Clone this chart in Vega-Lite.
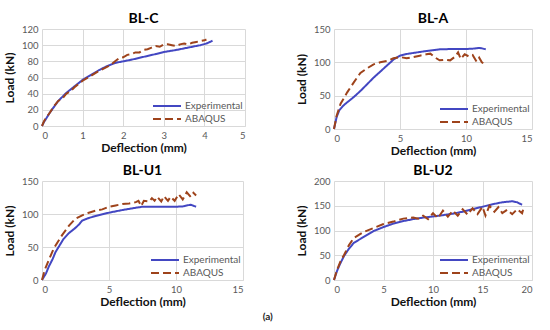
{
  "$schema": "https://vega.github.io/schema/vega-lite/v6.json",
  "background": "white",
  "padding": {"left": 3, "top": 12, "right": 5, "bottom": 2},
  "title": {"text": "(a)", "orient": "bottom", "anchor": "middle", "fontSize": 10, "fontWeight": "bold", "color": "#222222", "font": "Lato", "offset": 4},
  "config": {
    "font": "Lato",
    "view": {"stroke": null},
    "axis": {"gridColor": "#d9d9d9", "domainColor": "#d9d9d9", "ticks": false, "labelColor": "#595959", "labelFontSize": 9.5, "labelFont": "Lato", "titleFont": "Lato", "titleFontSize": 12, "titleFontWeight": "bold", "titleColor": "#111111", "labelPadding": 4},
    "axisY": {"domain": false, "titlePadding": 5},
    "axisX": {"titlePadding": 3, "labelPadding": 4},
    "legend": {"orient": "bottom-right", "labelColor": "#595959", "labelFontSize": 10, "labelFont": "Lato", "symbolType": "M-2,0H2", "symbolSize": 196, "symbolStrokeWidth": 2, "rowPadding": -1, "padding": 0, "offset": 2, "title": null, "labelOffset": 10},
    "title": {"fontSize": 14, "fontWeight": "bold", "color": "#000000", "font": "Lato", "offset": -2}
  },
  "datasets": {
    "d": [
      {"p":"BL-C","s":"Experimental","x":0,"y":0},{"p":"BL-C","s":"Experimental","x":0.05,"y":5},{"p":"BL-C","s":"Experimental","x":0.1,"y":9},{"p":"BL-C","s":"Experimental","x":0.2,"y":17},{"p":"BL-C","s":"Experimental","x":0.3,"y":24},{"p":"BL-C","s":"Experimental","x":0.4,"y":31},{"p":"BL-C","s":"Experimental","x":0.5,"y":36},{"p":"BL-C","s":"Experimental","x":0.6,"y":41},{"p":"BL-C","s":"Experimental","x":0.8,"y":49},{"p":"BL-C","s":"Experimental","x":1,"y":57},{"p":"BL-C","s":"Experimental","x":1.2,"y":63},{"p":"BL-C","s":"Experimental","x":1.4,"y":69},{"p":"BL-C","s":"Experimental","x":1.6,"y":74},{"p":"BL-C","s":"Experimental","x":1.8,"y":78},{"p":"BL-C","s":"Experimental","x":2,"y":80},{"p":"BL-C","s":"Experimental","x":2.2,"y":82},{"p":"BL-C","s":"Experimental","x":2.5,"y":85.5},{"p":"BL-C","s":"Experimental","x":2.8,"y":89},{"p":"BL-C","s":"Experimental","x":3,"y":91.5},{"p":"BL-C","s":"Experimental","x":3.3,"y":94},{"p":"BL-C","s":"Experimental","x":3.6,"y":97},{"p":"BL-C","s":"Experimental","x":3.9,"y":100},{"p":"BL-C","s":"Experimental","x":4.05,"y":102},{"p":"BL-C","s":"Experimental","x":4.2,"y":105.5},
      {"p":"BL-C","s":"ABAQUS","x":0,"y":0},{"p":"BL-C","s":"ABAQUS","x":0.05,"y":6},{"p":"BL-C","s":"ABAQUS","x":0.1,"y":10},{"p":"BL-C","s":"ABAQUS","x":0.2,"y":17},{"p":"BL-C","s":"ABAQUS","x":0.3,"y":25},{"p":"BL-C","s":"ABAQUS","x":0.4,"y":31},{"p":"BL-C","s":"ABAQUS","x":0.5,"y":34},{"p":"BL-C","s":"ABAQUS","x":0.6,"y":40},{"p":"BL-C","s":"ABAQUS","x":0.7,"y":43},{"p":"BL-C","s":"ABAQUS","x":0.8,"y":48},{"p":"BL-C","s":"ABAQUS","x":1,"y":56},{"p":"BL-C","s":"ABAQUS","x":1.2,"y":62},{"p":"BL-C","s":"ABAQUS","x":1.4,"y":68},{"p":"BL-C","s":"ABAQUS","x":1.6,"y":73},{"p":"BL-C","s":"ABAQUS","x":1.7,"y":76},{"p":"BL-C","s":"ABAQUS","x":1.8,"y":80},{"p":"BL-C","s":"ABAQUS","x":1.9,"y":84},{"p":"BL-C","s":"ABAQUS","x":2,"y":85},{"p":"BL-C","s":"ABAQUS","x":2.1,"y":88},{"p":"BL-C","s":"ABAQUS","x":2.2,"y":89},{"p":"BL-C","s":"ABAQUS","x":2.3,"y":91},{"p":"BL-C","s":"ABAQUS","x":2.4,"y":91},{"p":"BL-C","s":"ABAQUS","x":2.5,"y":94},{"p":"BL-C","s":"ABAQUS","x":2.6,"y":95},{"p":"BL-C","s":"ABAQUS","x":2.7,"y":97},{"p":"BL-C","s":"ABAQUS","x":2.8,"y":99},{"p":"BL-C","s":"ABAQUS","x":2.9,"y":98},{"p":"BL-C","s":"ABAQUS","x":3,"y":101},{"p":"BL-C","s":"ABAQUS","x":3.1,"y":101},{"p":"BL-C","s":"ABAQUS","x":3.2,"y":100},{"p":"BL-C","s":"ABAQUS","x":3.3,"y":99},{"p":"BL-C","s":"ABAQUS","x":3.4,"y":101},{"p":"BL-C","s":"ABAQUS","x":3.5,"y":102},{"p":"BL-C","s":"ABAQUS","x":3.6,"y":101},{"p":"BL-C","s":"ABAQUS","x":3.7,"y":103},{"p":"BL-C","s":"ABAQUS","x":3.8,"y":104},{"p":"BL-C","s":"ABAQUS","x":3.9,"y":105},{"p":"BL-C","s":"ABAQUS","x":4,"y":106},{"p":"BL-C","s":"ABAQUS","x":4.05,"y":107},
      {"p":"BL-A","s":"Experimental","x":0,"y":0},{"p":"BL-A","s":"Experimental","x":0.2,"y":18},{"p":"BL-A","s":"Experimental","x":0.4,"y":28},{"p":"BL-A","s":"Experimental","x":0.7,"y":35},{"p":"BL-A","s":"Experimental","x":1,"y":40},{"p":"BL-A","s":"Experimental","x":1.5,"y":48},{"p":"BL-A","s":"Experimental","x":2,"y":57},{"p":"BL-A","s":"Experimental","x":2.5,"y":67},{"p":"BL-A","s":"Experimental","x":3,"y":77},{"p":"BL-A","s":"Experimental","x":3.5,"y":86},{"p":"BL-A","s":"Experimental","x":4,"y":95},{"p":"BL-A","s":"Experimental","x":4.5,"y":104},{"p":"BL-A","s":"Experimental","x":5,"y":110},{"p":"BL-A","s":"Experimental","x":5.5,"y":112.5},{"p":"BL-A","s":"Experimental","x":6,"y":114},{"p":"BL-A","s":"Experimental","x":7,"y":117},{"p":"BL-A","s":"Experimental","x":8,"y":119.5},{"p":"BL-A","s":"Experimental","x":9,"y":120},{"p":"BL-A","s":"Experimental","x":10,"y":120},{"p":"BL-A","s":"Experimental","x":10.5,"y":120.5},{"p":"BL-A","s":"Experimental","x":11,"y":121.5},{"p":"BL-A","s":"Experimental","x":11.2,"y":121},{"p":"BL-A","s":"Experimental","x":11.5,"y":119.5},
      {"p":"BL-A","s":"ABAQUS","x":0,"y":0},{"p":"BL-A","s":"ABAQUS","x":0.2,"y":20},{"p":"BL-A","s":"ABAQUS","x":0.5,"y":38},{"p":"BL-A","s":"ABAQUS","x":0.8,"y":48},{"p":"BL-A","s":"ABAQUS","x":1,"y":55},{"p":"BL-A","s":"ABAQUS","x":1.5,"y":70},{"p":"BL-A","s":"ABAQUS","x":2,"y":84},{"p":"BL-A","s":"ABAQUS","x":2.5,"y":91},{"p":"BL-A","s":"ABAQUS","x":3,"y":97},{"p":"BL-A","s":"ABAQUS","x":3.5,"y":100},{"p":"BL-A","s":"ABAQUS","x":4,"y":102},{"p":"BL-A","s":"ABAQUS","x":4.5,"y":106},{"p":"BL-A","s":"ABAQUS","x":5,"y":108},{"p":"BL-A","s":"ABAQUS","x":5.5,"y":106},{"p":"BL-A","s":"ABAQUS","x":6,"y":108},{"p":"BL-A","s":"ABAQUS","x":6.5,"y":110},{"p":"BL-A","s":"ABAQUS","x":7,"y":112},{"p":"BL-A","s":"ABAQUS","x":7.3,"y":113},{"p":"BL-A","s":"ABAQUS","x":7.6,"y":108},{"p":"BL-A","s":"ABAQUS","x":8,"y":103},{"p":"BL-A","s":"ABAQUS","x":8.4,"y":104},{"p":"BL-A","s":"ABAQUS","x":8.8,"y":103},{"p":"BL-A","s":"ABAQUS","x":9.2,"y":109},{"p":"BL-A","s":"ABAQUS","x":9.4,"y":115},{"p":"BL-A","s":"ABAQUS","x":9.6,"y":105},{"p":"BL-A","s":"ABAQUS","x":9.9,"y":112},{"p":"BL-A","s":"ABAQUS","x":10.2,"y":109},{"p":"BL-A","s":"ABAQUS","x":10.5,"y":111},{"p":"BL-A","s":"ABAQUS","x":10.8,"y":101},{"p":"BL-A","s":"ABAQUS","x":11,"y":107},{"p":"BL-A","s":"ABAQUS","x":11.2,"y":100},{"p":"BL-A","s":"ABAQUS","x":11.5,"y":96},
      {"p":"BL-U1","s":"Experimental","x":0,"y":0},{"p":"BL-U1","s":"Experimental","x":0.3,"y":10},{"p":"BL-U1","s":"Experimental","x":0.5,"y":20},{"p":"BL-U1","s":"Experimental","x":0.8,"y":32},{"p":"BL-U1","s":"Experimental","x":1,"y":42},{"p":"BL-U1","s":"Experimental","x":1.3,"y":52},{"p":"BL-U1","s":"Experimental","x":1.6,"y":62},{"p":"BL-U1","s":"Experimental","x":2,"y":71},{"p":"BL-U1","s":"Experimental","x":2.5,"y":79},{"p":"BL-U1","s":"Experimental","x":2.8,"y":85},{"p":"BL-U1","s":"Experimental","x":3,"y":90},{"p":"BL-U1","s":"Experimental","x":3.5,"y":94},{"p":"BL-U1","s":"Experimental","x":4,"y":97},{"p":"BL-U1","s":"Experimental","x":4.5,"y":99.5},{"p":"BL-U1","s":"Experimental","x":5,"y":102},{"p":"BL-U1","s":"Experimental","x":6,"y":106},{"p":"BL-U1","s":"Experimental","x":7,"y":109.5},{"p":"BL-U1","s":"Experimental","x":7.5,"y":111},{"p":"BL-U1","s":"Experimental","x":8,"y":111},{"p":"BL-U1","s":"Experimental","x":9,"y":111},{"p":"BL-U1","s":"Experimental","x":10,"y":111},{"p":"BL-U1","s":"Experimental","x":10.5,"y":111.5},{"p":"BL-U1","s":"Experimental","x":10.8,"y":113},{"p":"BL-U1","s":"Experimental","x":11.1,"y":114},{"p":"BL-U1","s":"Experimental","x":11.5,"y":111},
      {"p":"BL-U1","s":"ABAQUS","x":0,"y":0},{"p":"BL-U1","s":"ABAQUS","x":0.2,"y":15},{"p":"BL-U1","s":"ABAQUS","x":0.5,"y":30},{"p":"BL-U1","s":"ABAQUS","x":0.8,"y":44},{"p":"BL-U1","s":"ABAQUS","x":1,"y":52},{"p":"BL-U1","s":"ABAQUS","x":1.5,"y":68},{"p":"BL-U1","s":"ABAQUS","x":2,"y":82},{"p":"BL-U1","s":"ABAQUS","x":2.5,"y":93},{"p":"BL-U1","s":"ABAQUS","x":3,"y":98},{"p":"BL-U1","s":"ABAQUS","x":3.5,"y":102},{"p":"BL-U1","s":"ABAQUS","x":4,"y":105},{"p":"BL-U1","s":"ABAQUS","x":4.5,"y":107},{"p":"BL-U1","s":"ABAQUS","x":5,"y":111},{"p":"BL-U1","s":"ABAQUS","x":5.5,"y":113},{"p":"BL-U1","s":"ABAQUS","x":6,"y":115},{"p":"BL-U1","s":"ABAQUS","x":6.5,"y":116},{"p":"BL-U1","s":"ABAQUS","x":7,"y":118},{"p":"BL-U1","s":"ABAQUS","x":7.2,"y":120},{"p":"BL-U1","s":"ABAQUS","x":7.4,"y":112},{"p":"BL-U1","s":"ABAQUS","x":7.6,"y":120},{"p":"BL-U1","s":"ABAQUS","x":8,"y":119},{"p":"BL-U1","s":"ABAQUS","x":8.2,"y":124},{"p":"BL-U1","s":"ABAQUS","x":8.4,"y":120},{"p":"BL-U1","s":"ABAQUS","x":8.6,"y":126},{"p":"BL-U1","s":"ABAQUS","x":8.9,"y":119},{"p":"BL-U1","s":"ABAQUS","x":9.1,"y":127},{"p":"BL-U1","s":"ABAQUS","x":9.4,"y":120},{"p":"BL-U1","s":"ABAQUS","x":9.6,"y":126},{"p":"BL-U1","s":"ABAQUS","x":9.9,"y":120},{"p":"BL-U1","s":"ABAQUS","x":10.2,"y":130},{"p":"BL-U1","s":"ABAQUS","x":10.5,"y":122},{"p":"BL-U1","s":"ABAQUS","x":10.8,"y":133},{"p":"BL-U1","s":"ABAQUS","x":11.1,"y":126},{"p":"BL-U1","s":"ABAQUS","x":11.3,"y":132},{"p":"BL-U1","s":"ABAQUS","x":11.5,"y":128},
      {"p":"BL-U2","s":"Experimental","x":0,"y":0},{"p":"BL-U2","s":"Experimental","x":0.3,"y":18},{"p":"BL-U2","s":"Experimental","x":0.6,"y":32},{"p":"BL-U2","s":"Experimental","x":1,"y":48},{"p":"BL-U2","s":"Experimental","x":1.5,"y":63},{"p":"BL-U2","s":"Experimental","x":2,"y":75},{"p":"BL-U2","s":"Experimental","x":3,"y":87},{"p":"BL-U2","s":"Experimental","x":4,"y":99},{"p":"BL-U2","s":"Experimental","x":5,"y":107},{"p":"BL-U2","s":"Experimental","x":6,"y":114},{"p":"BL-U2","s":"Experimental","x":7,"y":119},{"p":"BL-U2","s":"Experimental","x":8,"y":123},{"p":"BL-U2","s":"Experimental","x":9,"y":126},{"p":"BL-U2","s":"Experimental","x":10,"y":128.5},{"p":"BL-U2","s":"Experimental","x":11,"y":131},{"p":"BL-U2","s":"Experimental","x":12,"y":134},{"p":"BL-U2","s":"Experimental","x":13,"y":138},{"p":"BL-U2","s":"Experimental","x":14,"y":143},{"p":"BL-U2","s":"Experimental","x":15,"y":148},{"p":"BL-U2","s":"Experimental","x":16,"y":153},{"p":"BL-U2","s":"Experimental","x":17,"y":157},{"p":"BL-U2","s":"Experimental","x":18,"y":159},{"p":"BL-U2","s":"Experimental","x":18.5,"y":157},{"p":"BL-U2","s":"Experimental","x":19,"y":152},
      {"p":"BL-U2","s":"ABAQUS","x":0,"y":0},{"p":"BL-U2","s":"ABAQUS","x":0.3,"y":20},{"p":"BL-U2","s":"ABAQUS","x":0.7,"y":40},{"p":"BL-U2","s":"ABAQUS","x":1,"y":50},{"p":"BL-U2","s":"ABAQUS","x":1.5,"y":70},{"p":"BL-U2","s":"ABAQUS","x":2,"y":85},{"p":"BL-U2","s":"ABAQUS","x":3,"y":97},{"p":"BL-U2","s":"ABAQUS","x":4,"y":105},{"p":"BL-U2","s":"ABAQUS","x":5,"y":113},{"p":"BL-U2","s":"ABAQUS","x":6,"y":118},{"p":"BL-U2","s":"ABAQUS","x":7,"y":124},{"p":"BL-U2","s":"ABAQUS","x":8,"y":126},{"p":"BL-U2","s":"ABAQUS","x":8.5,"y":124},{"p":"BL-U2","s":"ABAQUS","x":9,"y":130},{"p":"BL-U2","s":"ABAQUS","x":9.5,"y":123},{"p":"BL-U2","s":"ABAQUS","x":10,"y":135},{"p":"BL-U2","s":"ABAQUS","x":10.5,"y":125},{"p":"BL-U2","s":"ABAQUS","x":11,"y":140},{"p":"BL-U2","s":"ABAQUS","x":11.5,"y":128},{"p":"BL-U2","s":"ABAQUS","x":12,"y":140},{"p":"BL-U2","s":"ABAQUS","x":12.5,"y":130},{"p":"BL-U2","s":"ABAQUS","x":13,"y":143},{"p":"BL-U2","s":"ABAQUS","x":13.5,"y":132},{"p":"BL-U2","s":"ABAQUS","x":14,"y":145},{"p":"BL-U2","s":"ABAQUS","x":14.5,"y":133},{"p":"BL-U2","s":"ABAQUS","x":15,"y":148},{"p":"BL-U2","s":"ABAQUS","x":15.3,"y":130},{"p":"BL-U2","s":"ABAQUS","x":15.7,"y":150},{"p":"BL-U2","s":"ABAQUS","x":16.2,"y":138},{"p":"BL-U2","s":"ABAQUS","x":16.6,"y":147},{"p":"BL-U2","s":"ABAQUS","x":17,"y":135},{"p":"BL-U2","s":"ABAQUS","x":17.5,"y":142},{"p":"BL-U2","s":"ABAQUS","x":18,"y":133},{"p":"BL-U2","s":"ABAQUS","x":18.5,"y":143},{"p":"BL-U2","s":"ABAQUS","x":19,"y":135},{"p":"BL-U2","s":"ABAQUS","x":19.1,"y":142}
    ]
  },
  "columns": 2,
  "spacing": {"row": 7, "column": 50},
  "resolve": {"scale": {"x": "independent", "y": "independent", "color": "independent", "strokeDash": "independent"}, "legend": {"color": "independent", "strokeDash": "independent"}},
  "concat": [
    {
      "title": "BL-C", "width": 203, "height": 97,
      "data": {"name": "d"},
      "transform": [{"filter": "datum.p === 'BL-C'"}],
      "mark": {"type": "line", "strokeWidth": 2},
      "encoding": {
        "x": {"field": "x", "type": "quantitative", "scale": {"domain": [0, 5]}, "axis": {"title": "Deflection (mm)", "values": [0,1,2,3,4,5]}},
        "y": {"field": "y", "type": "quantitative", "scale": {"domain": [0, 120]}, "axis": {"title": "Load (kN)", "values": [0,20,40,60,80,100,120]}},
        "color": {"field": "s", "type": "nominal", "scale": {"domain": ["Experimental", "ABAQUS"], "range": ["#4347C2", "#9E431B"]}},
        "strokeDash": {"field": "s", "type": "nominal", "scale": {"domain": ["Experimental", "ABAQUS"], "range": [[1, 0], [8, 4]]}}
      }
    },
    {
      "title": "BL-A", "width": 198, "height": 100,
      "data": {"name": "d"},
      "transform": [{"filter": "datum.p === 'BL-A'"}],
      "mark": {"type": "line", "strokeWidth": 2},
      "encoding": {
        "x": {"field": "x", "type": "quantitative", "scale": {"domain": [0, 15]}, "axis": {"title": "Deflection (mm)", "values": [0,5,10,15]}},
        "y": {"field": "y", "type": "quantitative", "scale": {"domain": [0, 150]}, "axis": {"title": "Load (kN)", "values": [0,50,100,150]}},
        "color": {"field": "s", "type": "nominal", "scale": {"domain": ["Experimental", "ABAQUS"], "range": ["#4347C2", "#9E431B"]}},
        "strokeDash": {"field": "s", "type": "nominal", "scale": {"domain": ["Experimental", "ABAQUS"], "range": [[1, 0], [8, 4]]}}
      }
    },
    {
      "title": "BL-U1", "width": 201, "height": 99,
      "data": {"name": "d"},
      "transform": [{"filter": "datum.p === 'BL-U1'"}],
      "mark": {"type": "line", "strokeWidth": 2},
      "encoding": {
        "x": {"field": "x", "type": "quantitative", "scale": {"domain": [0, 15]}, "axis": {"title": "Deflection (mm)", "values": [0,5,10,15]}},
        "y": {"field": "y", "type": "quantitative", "scale": {"domain": [0, 150]}, "axis": {"title": "Load (kN)", "values": [0,50,100,150]}},
        "color": {"field": "s", "type": "nominal", "scale": {"domain": ["Experimental", "ABAQUS"], "range": ["#4347C2", "#9E431B"]}},
        "strokeDash": {"field": "s", "type": "nominal", "scale": {"domain": ["Experimental", "ABAQUS"], "range": [[1, 0], [8, 4]]}}
      }
    },
    {
      "title": "BL-U2", "width": 198, "height": 99,
      "data": {"name": "d"},
      "transform": [{"filter": "datum.p === 'BL-U2'"}],
      "mark": {"type": "line", "strokeWidth": 2},
      "encoding": {
        "x": {"field": "x", "type": "quantitative", "scale": {"domain": [0, 20]}, "axis": {"title": "Deflection (mm)", "values": [0,5,10,15,20]}},
        "y": {"field": "y", "type": "quantitative", "scale": {"domain": [0, 200]}, "axis": {"title": "Load (kN)", "values": [0,50,100,150,200]}},
        "color": {"field": "s", "type": "nominal", "scale": {"domain": ["Experimental", "ABAQUS"], "range": ["#4347C2", "#9E431B"]}},
        "strokeDash": {"field": "s", "type": "nominal", "scale": {"domain": ["Experimental", "ABAQUS"], "range": [[1, 0], [8, 4]]}}
      }
    }
  ]
}
